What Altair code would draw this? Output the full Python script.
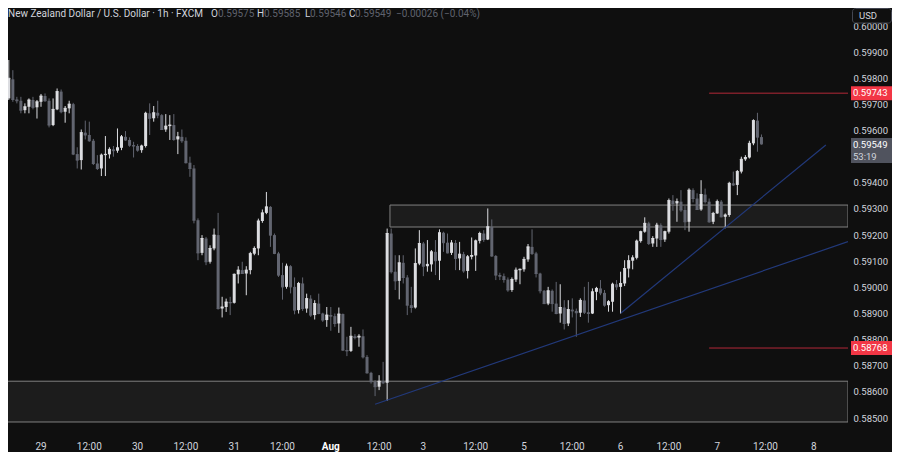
import altair as alt
import pandas as pd

# ---------------- data (prices in 1e-5 units, bar index = hours, 0 = Jul 29 00:00) ----------------
bar_index = list(range(-10, 180))
opens = [
    59812, 59851, 59723, 59796, 59719, 59714, 59678, 59691, 59717, 59689,
    59710, 59732, 59714, 59621, 59681, 59749, 59672, 59685, 59701, 59510,
    59487, 59592, 59583, 59561, 59474, 59455, 59506, 59509, 59528, 59523,
    59534, 59576, 59564, 59544, 59541, 59525, 59541, 59666, 59647, 59668,
    59659, 59604, 59617, 59621, 59566, 59576, 59561, 59477, 59455, 59257,
    59132, 59187, 59098, 59149, 59200, 58919, 58925, 58944, 58941, 59050,
    59066, 59053, 59066, 59129, 59149, 59254, 59285, 59308, 59200, 59130,
    59047, 59002, 59081, 59002, 58913, 59015, 58919, 58957, 58894, 58938,
    58900, 58875, 58894, 58890, 58862, 58898, 58760, 58757, 58813, 58808,
    58813, 58734, 58673, 58639, 58620, 58641, 58635, 59206, 59060, 59025,
    59094, 59038, 58932, 58923, 59091, 59168, 59081, 59088, 59136, 59102,
    59209, 59171, 59132, 59170, 59111, 59127, 59063, 59117, 59122, 59178,
    59206, 59183, 59232, 59120, 59047, 59043, 59030, 58990, 59030, 59066,
    59069, 59107, 59155, 59130, 59053, 58987, 58938, 58987, 58938, 58900,
    58923, 58862, 58915, 58910, 58903, 58950, 58905, 58900, 58983, 58996,
    58979, 58932, 58945, 59012, 59002, 59015, 59072, 59102, 59113, 59177,
    59213, 59245, 59168, 59187, 59238, 59183, 59213, 59332, 59321, 59328,
    59296, 59251, 59372, 59340, 59298, 59355, 59328, 59251, 59283, 59328,
    59270, 59277, 59398, 59392, 59443, 59490, 59497, 59551, 59638, 59575,
]
highs = [
    59882, 59885, 59870, 59831, 59729, 59729, 59704, 59723, 59729, 59717,
    59740, 59742, 59723, 59723, 59761, 59757, 59694, 59714, 59706, 59536,
    59604, 59638, 59634, 59568, 59506, 59512, 59579, 59536, 59541, 59608,
    59583, 59598, 59574, 59557, 59548, 59546, 59672, 59704, 59694, 59714,
    59663, 59663, 59659, 59663, 59595, 59604, 59574, 59500, 59468, 59264,
    59200, 59193, 59161, 59225, 59285, 58964, 58957, 58964, 59053, 59081,
    59098, 59081, 59136, 59157, 59263, 59298, 59365, 59311, 59206, 59136,
    59094, 59091, 59085, 59038, 59021, 59038, 58976, 58970, 58951, 58976,
    58903, 58925, 58925, 58900, 58923, 58900, 58811, 58849, 58821, 58821,
    58839, 58741, 58677, 58645, 58664, 58715, 59225, 59225, 59123, 59123,
    59123, 59047, 59002, 59149, 59219, 59174, 59181, 59143, 59181, 59222,
    59213, 59206, 59181, 59181, 59174, 59136, 59124, 59191, 59183, 59213,
    59219, 59302, 59260, 59124, 59056, 59053, 59038, 59038, 59076, 59072,
    59117, 59166, 59222, 59136, 59056, 58990, 59002, 58992, 59021, 59012,
    58951, 58951, 58958, 58919, 58958, 59002, 59021, 58996, 59002, 59028,
    58990, 58951, 59018, 59028, 59060, 59104, 59123, 59123, 59183, 59217,
    59268, 59251, 59196, 59247, 59245, 59217, 59340, 59353, 59340, 59372,
    59311, 59379, 59379, 59360, 59410, 59378, 59340, 59289, 59336, 59334,
    59283, 59404, 59443, 59449, 59500, 59506, 59561, 59643, 59668, 59585,
]
lows = [
    59787, 59710, 59717, 59710, 59704, 59666, 59666, 59666, 59681, 59646,
    59691, 59710, 59612, 59617, 59678, 59666, 59630, 59666, 59506, 59455,
    59451, 59566, 59557, 59468, 59449, 59426, 59426, 59493, 59500, 59515,
    59525, 59561, 59538, 59497, 59519, 59515, 59535, 59583, 59634, 59647,
    59602, 59595, 59564, 59561, 59510, 59553, 59474, 59423, 59245, 59104,
    59123, 59085, 59091, 59142, 58915, 58885, 58906, 58894, 58938, 59015,
    59053, 58970, 59050, 59123, 59123, 59247, 59280, 59155, 59127, 59040,
    58953, 58995, 58977, 58897, 58900, 58910, 58903, 58887, 58877, 58897,
    58868, 58849, 58834, 58849, 58826, 58757, 58737, 58753, 58801, 58773,
    58728, 58670, 58632, 58584, 58607, 58630, 58566, 59053, 58990, 58954,
    59015, 58894, 58903, 58919, 59085, 59043, 59060, 59060, 59047, 59028,
    59136, 59130, 59124, 59066, 59066, 59056, 59034, 59107, 59063, 59168,
    59174, 59181, 59117, 59028, 59028, 59018, 58983, 58983, 59021, 59012,
    59060, 59098, 59124, 59038, 58977, 58936, 58932, 58907, 58897, 58865,
    58839, 58852, 58885, 58811, 58887, 58898, 58865, 58898, 58951, 58970,
    58926, 58907, 58907, 58990, 58900, 59005, 59038, 59069, 59107, 59171,
    59209, 59162, 59155, 59155, 59155, 59174, 59206, 59293, 59251, 59289,
    59219, 59213, 59325, 59296, 59293, 59321, 59247, 59242, 59281, 59268,
    59226, 59270, 59388, 59353, 59436, 59484, 59493, 59544, 59519, 59546,
]
closes = [
    59851, 59723, 59800, 59719, 59714, 59678, 59691, 59717, 59689, 59710,
    59732, 59714, 59621, 59681, 59749, 59672, 59685, 59701, 59510, 59487,
    59592, 59583, 59561, 59474, 59455, 59506, 59509, 59528, 59523, 59534,
    59576, 59564, 59544, 59541, 59525, 59541, 59666, 59647, 59668, 59659,
    59604, 59617, 59621, 59566, 59576, 59561, 59477, 59455, 59257, 59132,
    59187, 59098, 59149, 59200, 58919, 58925, 58944, 58941, 59050, 59066,
    59053, 59066, 59129, 59149, 59254, 59285, 59308, 59200, 59130, 59047,
    59002, 59081, 59002, 58913, 59015, 58919, 58957, 58894, 58938, 58900,
    58875, 58894, 58890, 58862, 58898, 58760, 58757, 58813, 58808, 58813,
    58734, 58673, 58639, 58620, 58641, 58635, 59206, 59060, 59025, 59094,
    59038, 58932, 58923, 59091, 59168, 59081, 59088, 59136, 59102, 59209,
    59171, 59132, 59170, 59111, 59127, 59063, 59117, 59122, 59178, 59206,
    59183, 59232, 59120, 59047, 59043, 59030, 58990, 59030, 59066, 59069,
    59107, 59155, 59130, 59053, 58987, 58938, 58987, 58938, 58900, 58923,
    58862, 58915, 58910, 58903, 58950, 58905, 58900, 58983, 58996, 58979,
    58932, 58945, 59012, 59002, 59015, 59072, 59102, 59113, 59177, 59213,
    59245, 59168, 59187, 59238, 59183, 59213, 59332, 59321, 59328, 59296,
    59251, 59372, 59340, 59298, 59355, 59328, 59251, 59283, 59328, 59270,
    59277, 59398, 59392, 59443, 59490, 59497, 59551, 59638, 59575, 59549,
]

# x-axis (time) labels, at bar index positions
time_label_index = [0, 12, 24, 36, 48, 60, 72, 84, 95, 108, 120, 132, 144, 156, 168, 180, 192]
time_label_text = ["29", "12:00", "30", "12:00", "31", "12:00", "Aug", "12:00", "3",
                   "12:00", "5", "12:00", "6", "12:00", "7", "12:00", "8"]
time_label_bold = [t == "Aug" for t in time_label_text]

price_ticks = [0.585, 0.586, 0.587, 0.588, 0.589, 0.590, 0.591, 0.592,
               0.593, 0.594, 0.595, 0.596, 0.597, 0.598, 0.599, 0.600]

# annotations (bar index / price)
zone_x1 = [-12, 86.7]
zone_x2 = [200.5, 200.5]
zone_top = [0.58641, 0.59315]
zone_bottom = [0.58485, 0.59231]

trend_x1 = [83.0, 144.1]
trend_x2 = [200.5, 195.0]
trend_p1 = [0.58553, 0.58902]
trend_p2 = [0.59175, 0.59545]

level_x1 = [166.0, 166.0]
level_x2 = [200.5, 200.5]
level_price = [0.59743, 0.58768]
level_text = ["0.59743", "0.58768"]

last_price = 0.59549
last_text = "0.59549"
countdown_text = "53:19"

header_text = ["New Zealand Dollar / U.S. Dollar · 1h · FXCM",
               "O", "0.59575", "H", "0.59585", "L", "0.59546", "C", "0.59549",
               "\u22120.00026 (\u22120.04%)"]
header_role = ["title", "key", "val", "key", "val", "key", "val", "key", "val", "val"]

# ---------------- layout / style ----------------
W, H = 840, 420
X_DOMAIN = [-8.2, 200.5]
Y_DOMAIN = [0.58462, 0.600689]
header_x = [0, 203, 210, 249, 256, 297, 302, 341, 347, 388]

BG = "#0f0f0f"
UP = "#dcdde1"
DOWN = "#626570"
LABEL = "#d1d4dc"
VAL = "#5f626d"
ZONE_FILL = "#1c1c1c"
ZONE_STROKE = "#808080"
TREND = "#22397a"
RED = "#f23645"
REDLINE = "#b22838"
FONT = "Roboto"

df = pd.DataFrame({
    "i": bar_index,
    "o": [v / 1e5 for v in opens],
    "h": [v / 1e5 for v in highs],
    "l": [v / 1e5 for v in lows],
    "c": [v / 1e5 for v in closes],
})
df["dir"] = ["up" if c >= o else "down" for o, c in zip(opens, closes)]

xs = alt.Scale(domain=X_DOMAIN, nice=False, zero=False, padding=0)
ys = alt.Scale(domain=Y_DOMAIN, nice=False, zero=False, padding=0)
color_enc = alt.Color("dir:N", scale=alt.Scale(domain=["up", "down"], range=[UP, DOWN]), legend=None)

yaxis = alt.Axis(orient="right", values=price_ticks, format=".5f", labelColor=LABEL,
                 labelFont=FONT, labelFontSize=9.5, labelPadding=5, domain=False,
                 ticks=False, grid=False, title=None, labelOverlap=False)


def Y(field):
    return alt.Y(field, scale=ys, axis=yaxis)


X_IDX = alt.X("i:Q", scale=xs, axis=None)

zones_df = pd.DataFrame({"x1": zone_x1, "x2": zone_x2, "p1": zone_top, "p2": zone_bottom})
zones = alt.Chart(zones_df).mark_rect(fill=ZONE_FILL, stroke=ZONE_STROKE, strokeWidth=1, clip=True).encode(
    x=alt.X("x1:Q", scale=xs, axis=None), x2="x2:Q", y=Y("p1:Q"), y2="p2:Q")

wicks = alt.Chart(df).mark_rule(strokeWidth=1, clip=True).encode(
    x=X_IDX, y=Y("l:Q"), y2="h:Q", color=color_enc)

bodies = alt.Chart(df).mark_bar(size=3, clip=True).encode(
    x=X_IDX, y=Y("o:Q"), y2="c:Q", color=color_enc)

doji = alt.Chart(df).mark_tick(orient="horizontal", size=3, thickness=1, opacity=1, clip=True).encode(
    x=X_IDX, y=Y("c:Q"), color=color_enc)

trend_df = pd.DataFrame({"x1": trend_x1, "x2": trend_x2, "p1": trend_p1, "p2": trend_p2})
trends = alt.Chart(trend_df).mark_rule(color=TREND, strokeWidth=1.2, clip=True).encode(
    x=alt.X("x1:Q", scale=xs, axis=None), x2="x2:Q", y=Y("p1:Q"), y2="p2:Q")

level_df = pd.DataFrame({"x1": level_x1, "x2": level_x2, "p": level_price, "t": level_text})
level_lines = alt.Chart(level_df).mark_rule(color=REDLINE, strokeWidth=1, clip=True).encode(
    x=alt.X("x1:Q", scale=xs, axis=None), x2="x2:Q", y=Y("p:Q"))
level_boxes = alt.Chart(level_df).mark_tick(orient="horizontal", size=41, thickness=14,
                                            color=RED, opacity=1).encode(
    x=alt.value(863.5), y=Y("p:Q"))
level_labels = alt.Chart(level_df).mark_text(align="left", baseline="middle", color="#ffffff",
                                             font=FONT, fontSize=9.5).encode(
    x=alt.value(845), y=Y("p:Q"), text="t:N")

last_df = pd.DataFrame({"p": [last_price], "t": [last_text], "cd": [countdown_text]})
last_box = alt.Chart(last_df).mark_tick(orient="horizontal", size=41, thickness=25, yOffset=6.5,
                                        color="#50535e", opacity=1).encode(
    x=alt.value(863.5), y=Y("p:Q"))
last_label = alt.Chart(last_df).mark_text(align="left", baseline="middle", color="#ffffff",
                                          font=FONT, fontSize=9.5, yOffset=1).encode(
    x=alt.value(845), y=Y("p:Q"), text="t:N")
last_cd = alt.Chart(last_df).mark_text(align="left", baseline="middle", color=LABEL,
                                       font=FONT, fontSize=9.5, yOffset=13).encode(
    x=alt.value(845), y=Y("p:Q"), text="cd:N")

tl_df = pd.DataFrame({"i": time_label_index, "t": time_label_text, "bold": time_label_bold})
time_labels = alt.Chart(tl_df).mark_text(baseline="middle", align="center", color=LABEL,
                                         font=FONT, fontSize=10).encode(
    x=X_IDX, y=alt.value(439), text="t:N"
).transform_filter("!datum.bold")
time_labels_bold = alt.Chart(tl_df).mark_text(baseline="middle", align="center", color="#ffffff",
                                              font=FONT, fontSize=10, fontWeight="bold").encode(
    x=X_IDX, y=alt.value(439), text="t:N"
).transform_filter("datum.bold")

hdr_df = pd.DataFrame({"px": header_x, "t": header_text,
                       "col": [LABEL if r != "val" else VAL for r in header_role]})
header = alt.Chart(hdr_df).mark_text(align="left", baseline="middle", font=FONT, fontSize=10).encode(
    x=alt.X("px:Q", scale=None), y=alt.value(6), text="t:N", color=alt.Color("col:N", scale=None))

usd_df = pd.DataFrame({"t": ["USD"]})
usd_box = alt.Chart(usd_df).mark_rect(fill=BG, stroke="#434651", strokeWidth=1, cornerRadius=3).encode(
    x=alt.value(844.5), x2=alt.value(883.5), y=alt.value(0.5), y2=alt.value(15))
usd_text = alt.Chart(usd_df).mark_text(align="left", baseline="middle", color=LABEL,
                                       font=FONT, fontSize=9.5).encode(
    x=alt.value(851), y=alt.value(8), text="t:N")

chart = alt.layer(
    zones, wicks, bodies, doji, trends, level_lines,
    level_boxes, level_labels, last_box, last_label, last_cd,
    time_labels, time_labels_bold, header, usd_box, usd_text,
).properties(
    width=W, height=H, padding={"left": 0, "top": 0, "right": 0, "bottom": 0}
).configure(background=BG).configure_view(stroke=None)

chart.save("out.html", embed_options={"renderer": "svg", "actions": False})
